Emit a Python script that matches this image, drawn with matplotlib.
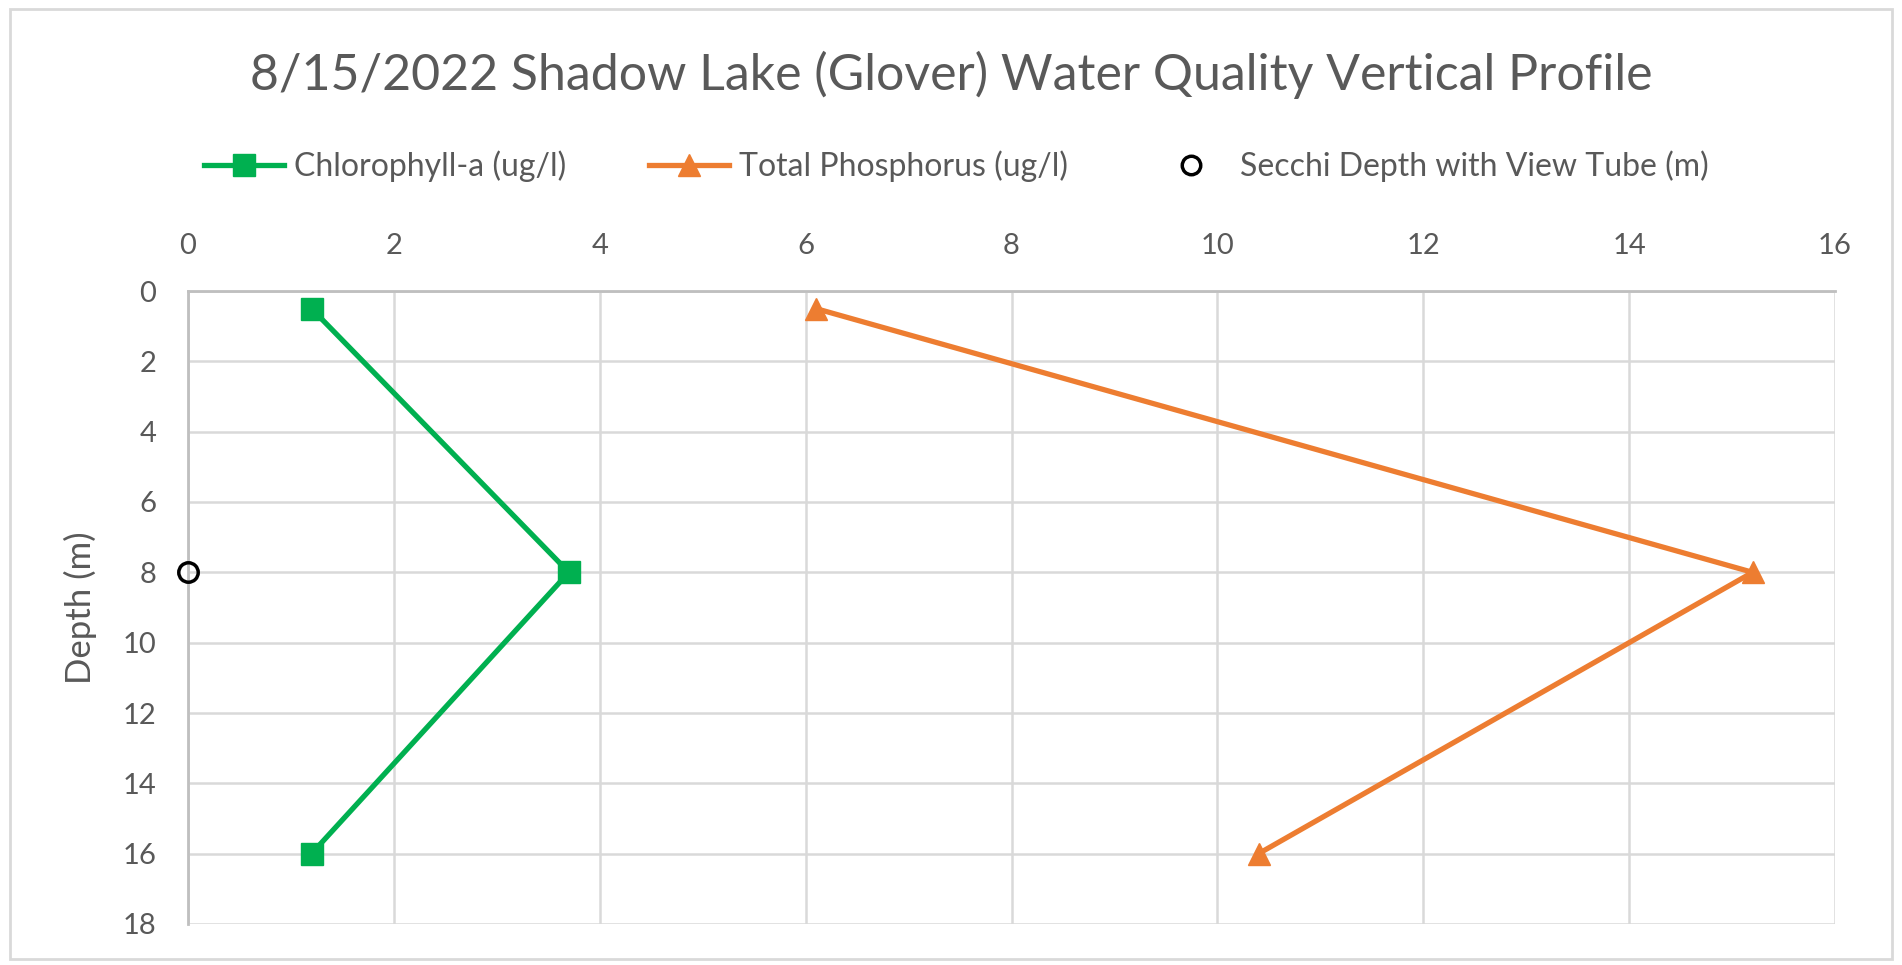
import matplotlib
matplotlib.use('Agg')
import matplotlib.pyplot as plt
from matplotlib.patches import Rectangle

# profile data (depth in m)
chl_depth = [0.5, 8, 16]
chl_vals = [1.2, 3.7, 1.2]
tp_depth = [0.5, 8, 16]
tp_vals = [6.1, 15.2, 10.4]
secchi_depth = [8]
secchi_x = [0]

x_ticks = [0, 2, 4, 6, 8, 10, 12, 14, 16]
y_ticks = [0, 2, 4, 6, 8, 10, 12, 14, 16, 18]

plt.rcParams['font.family'] = ['Lato', 'DejaVu Sans']
txt = '#595959'
grid = '#D9D9D9'

fig = plt.figure(figsize=(19.02, 9.65), dpi=100)
fig.patches.append(Rectangle((0.005, 0.006), 0.99, 0.985, transform=fig.transFigure,
                             fill=False, edgecolor='#D9D9D9', linewidth=2))

ax = fig.add_axes([188 / 1902, 1 - 924 / 965, (1835 - 188) / 1902, (924 - 291) / 965])

ax.plot(chl_vals, chl_depth, color='#00B050', lw=3.8, marker='s', ms=16,
        label='Chlorophyll-a (ug/l)', zorder=3)
ax.plot(tp_vals, tp_depth, color='#ED7D31', lw=3.8, marker='^', ms=16,
        label='Total Phosphorus (ug/l)', zorder=3)
ax.plot(secchi_x, secchi_depth, linestyle='none', marker='o', ms=14, mfc='none',
        mec='black', mew=2.5, label='Secchi Depth with View Tube (m)', zorder=4, clip_on=False)

ax.set_xlim(0, 16)
ax.set_ylim(18, 0)
ax.set_xticks(x_ticks)
ax.set_yticks(y_ticks)
ax.xaxis.tick_top()
ax.tick_params(length=0, labelsize=21, colors=txt, pad=23)
ax.grid(True, color=grid, lw=1.8)
ax.set_axisbelow(True)
for s in ['right', 'bottom']:
    ax.spines[s].set_visible(False)
for s in ['left', 'top']:
    ax.spines[s].set_color('#BFBFBF')
    ax.spines[s].set_linewidth(2)

ax.set_ylabel('Depth (m)', fontsize=25, color=txt)
ax.yaxis.set_label_coords(-0.055, 0.5)

fig.text(0.5, 0.922, '8/15/2022 Shadow Lake (Glover) Water Quality Vertical Profile',
         fontsize=36, color=txt, ha='center', va='center')

fig.legend(loc='center', bbox_to_anchor=(0.503, 0.828), ncol=3, frameon=False,
           fontsize=23, labelcolor=txt, handlelength=2.5, columnspacing=2.6,
           handletextpad=0.3, markerscale=0.95)

fig.savefig('out.png', dpi=100)
